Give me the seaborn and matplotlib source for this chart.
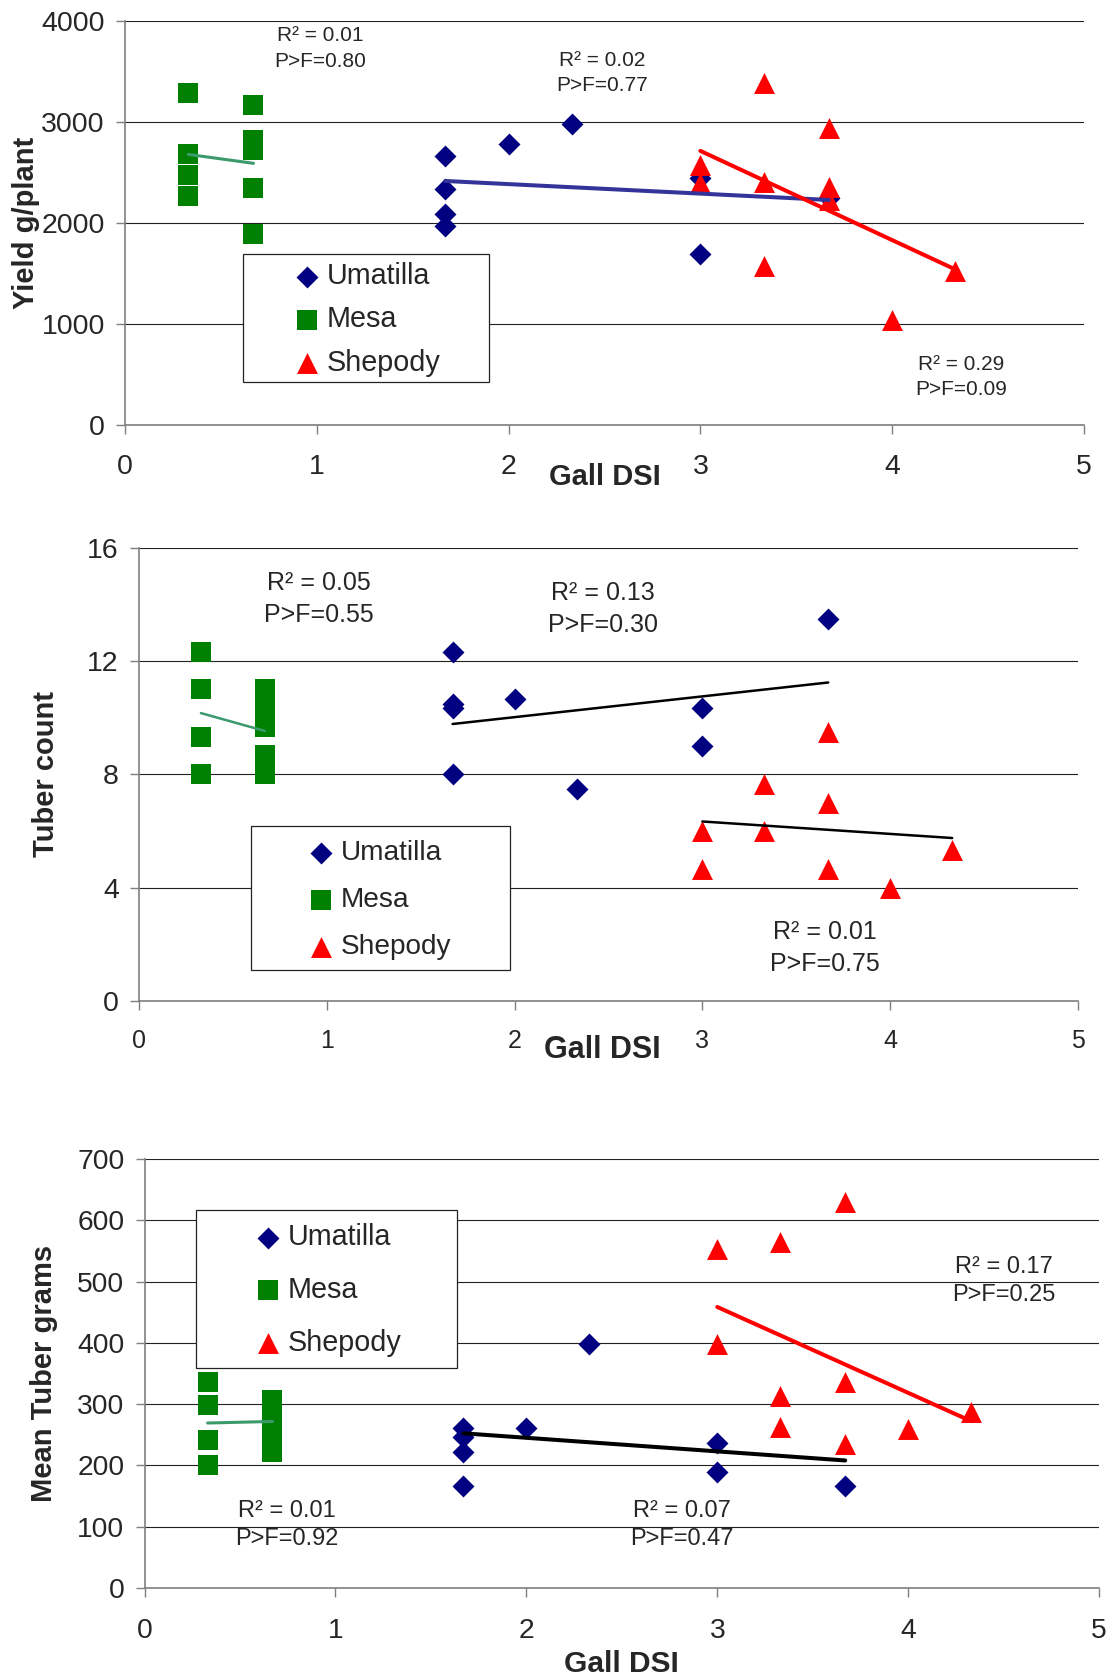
import numpy as np
import pandas as pd
import seaborn as sns
import matplotlib.pyplot as plt
from matplotlib.patches import Rectangle

# Gall DSI for each variety
mesa_dsi = [0.33, 0.33, 0.33, 0.33, 0.67, 0.67, 0.67, 0.67, 0.67]
uma_dsi = [1.67, 1.67, 1.67, 1.67, 2.0, 2.33, 3.0, 3.0, 3.67]
shep_dsi = [3.0, 3.0, 3.33, 3.33, 3.33, 3.67, 3.67, 3.67, 4.0, 4.33]
shep_dsi_count = [3.0, 3.0, 3.33, 3.33, 3.67, 3.67, 3.67, 4.0, 4.33]

# yield g/plant
mesa_yield = [3290, 2690, 2480, 2270, 3170, 2830, 2730, 2350, 1890]
uma_yield = [2670, 2340, 2090, 1970, 2790, 2980, 2450, 1700, 2250]
shep_yield = [2580, 2400, 3390, 2410, 1580, 2940, 2360, 2230, 1040, 1530]

# tuber count
mesa_count = [12.33, 11.0, 9.33, 8.0, 11.0, 10.33, 9.67, 8.67, 8.0]
uma_count = [12.33, 10.5, 10.33, 8.0, 10.67, 7.5, 10.33, 9.0, 13.5]
shep_count = [6.0, 4.67, 7.67, 6.0, 9.5, 7.0, 4.67, 4.0, 5.33]

# mean tuber grams
mesa_grams = [336, 299, 242, 200, 307, 300, 280, 250, 222]
uma_grams = [261, 246, 222, 167, 261, 398, 237, 189, 166]
shep_grams = [553, 398, 564, 314, 263, 630, 336, 235, 259, 287]

varieties = ["Umatilla", "Mesa", "Shepody"]

sns.set_style("white")
plt.rcParams['font.family'] = ['Liberation Sans', 'DejaVu Sans']

NAVY = "#000080"
GREEN = "#008000"
RED = "#FF0000"
GREY = "#7f7f7f"

fig = plt.figure(figsize=(11.12, 16.78), dpi=100)


def draw_panel(rect, data, fits, ylim, yticks, ylabel, ylab_x, xlab_x, xlab_y, xlab_size,
               ytick_size, xtick_size, xpad, legend_box, legend_pos, legend_size,
               legend_spacing, notes, note_size, note_spacing):
    ax = fig.add_axes(rect)
    (ux, uy), (mx, my), (sx, sy) = data
    sns.scatterplot(x=ux, y=uy, ax=ax, marker="D", color=NAVY, s=125,
                    linewidth=0, label="Umatilla", zorder=2)
    sns.scatterplot(x=mx, y=my, ax=ax, marker="s", color=GREEN, s=222,
                    linewidth=0, label="Mesa", zorder=2)
    sns.scatterplot(x=sx, y=sy, ax=ax, marker="^", color=RED, s=227,
                    linewidth=0, label="Shepody", zorder=2)
    # trend lines: Umatilla, Mesa, Shepody
    for (x, y), (col, lw) in zip(data, fits):
        sns.regplot(x=x, y=y, ax=ax, scatter=False, ci=None, truncate=True,
                    color=col, line_kws=dict(lw=lw, zorder=3))

    ax.set_xlim(0, 5)
    ax.set_ylim(*ylim)
    ax.set_xticks([0, 1, 2, 3, 4, 5])
    ax.set_yticks(yticks)
    ax.set_axisbelow(True)
    ax.yaxis.grid(True, color="#222222", lw=0.8)
    ax.xaxis.grid(False)
    for side in ["top", "right"]:
        ax.spines[side].set_visible(False)
    for side in ["left", "bottom"]:
        ax.spines[side].set_color(GREY)
        ax.spines[side].set_linewidth(1.2)
    ax.tick_params(axis="y", left=True, length=6.5, width=1, color=GREY,
                   labelsize=ytick_size, pad=8)
    ax.tick_params(axis="x", bottom=True, length=6.5, width=1, color=GREY,
                   labelsize=xtick_size, pad=xpad)

    ax.set_ylabel(ylabel, fontsize=21, fontweight="bold")
    ax.yaxis.set_label_coords(ylab_x, 0.5)
    ax.set_xlabel("Gall DSI", fontsize=xlab_size, fontweight="bold")
    ax.xaxis.set_label_coords(xlab_x, xlab_y)

    bx0, by0, bx1, by1 = legend_box
    ax.add_patch(Rectangle((bx0, by0), bx1 - bx0, by1 - by0, transform=ax.transAxes,
                           facecolor="white", edgecolor="#222222", lw=0.9, zorder=4,
                           clip_on=False))
    handles, labels = ax.get_legend_handles_labels()
    leg = ax.legend(handles[:3], varieties, loc="center left", bbox_to_anchor=legend_pos,
                    frameon=False, handlelength=1.0, handletextpad=0.2,
                    labelspacing=legend_spacing, borderpad=0, borderaxespad=0,
                    prop=dict(size=legend_size))
    leg.set_zorder(5)

    for x, y, txt in notes:
        ax.text(x, y, txt, ha="center", va="center", fontsize=note_size,
                linespacing=note_spacing, multialignment="center", zorder=6)
    return ax


draw_panel(
    rect=[0.1124, 0.7467, 0.8624, 0.2405],
    data=[(uma_dsi, uma_yield), (mesa_dsi, mesa_yield), (shep_dsi, shep_yield)],
    fits=[("#333399", 2.9), ("#3a9a6c", 2.2), (RED, 2.9)],
    ylim=(0, 4000), yticks=[0, 1000, 2000, 3000, 4000], ylabel="Yield g/plant",
    ylab_x=-0.089, xlab_x=0.5, xlab_y=-0.095, xlab_size=21, ytick_size=20.5,
    xtick_size=20.5, xpad=14.5, legend_box=(0.123, 0.107, 0.38, 0.424),
    legend_pos=(0.1747, 0.262), legend_size=20.7, legend_spacing=0.53,
    notes=[(1.02, 3729, "R² = 0.01\nP>F=0.80"),
           (2.49, 3490, "R² = 0.02\nP>F=0.77"),
           (4.36, 476, "R² = 0.29\nP>F=0.09")],
    note_size=15, note_spacing=1.45,
)

draw_panel(
    rect=[0.125, 0.4035, 0.8444, 0.27],
    data=[(uma_dsi, uma_count), (mesa_dsi, mesa_count), (shep_dsi_count, shep_count)],
    fits=[("black", 1.8), ("#3a9a6c", 1.8), ("black", 1.8)],
    ylim=(0, 16), yticks=[0, 4, 8, 12, 16], ylabel="Tuber count",
    ylab_x=-0.084, xlab_x=0.493, xlab_y=-0.075, xlab_size=22, ytick_size=20.5,
    xtick_size=18, xpad=14, legend_box=(0.119, 0.068, 0.395, 0.386),
    legend_pos=(0.179, 0.222), legend_size=20.2, legend_spacing=0.75,
    notes=[(0.958, 14.2, "R² = 0.05\nP>F=0.55"),
           (2.47, 13.85, "R² = 0.13\nP>F=0.30"),
           (3.65, 1.87, "R² = 0.01\nP>F=0.75")],
    note_size=18, note_spacing=1.4,
)

draw_panel(
    rect=[0.13, 0.0536, 0.8584, 0.2557],
    data=[(uma_dsi, uma_grams), (mesa_dsi, mesa_grams), (shep_dsi, shep_grams)],
    fits=[("black", 2.9), ("#3a9a6c", 2.2), (RED, 2.9)],
    ylim=(0, 700), yticks=[0, 100, 200, 300, 400, 500, 600, 700],
    ylabel="Mean Tuber grams",
    ylab_x=-0.091, xlab_x=0.5, xlab_y=-0.145, xlab_size=21.5, ytick_size=20.3,
    xtick_size=20.3, xpad=15, legend_box=(0.054, 0.513, 0.327, 0.882),
    legend_pos=(0.114, 0.695), legend_size=20.7, legend_spacing=0.86,
    notes=[(0.745, 103, "R² = 0.01\nP>F=0.92"),
           (2.815, 103, "R² = 0.07\nP>F=0.47"),
           (4.50, 501, "R² = 0.17\nP>F=0.25")],
    note_size=17, note_spacing=1.4,
)

fig.savefig("out.png", dpi=100)
